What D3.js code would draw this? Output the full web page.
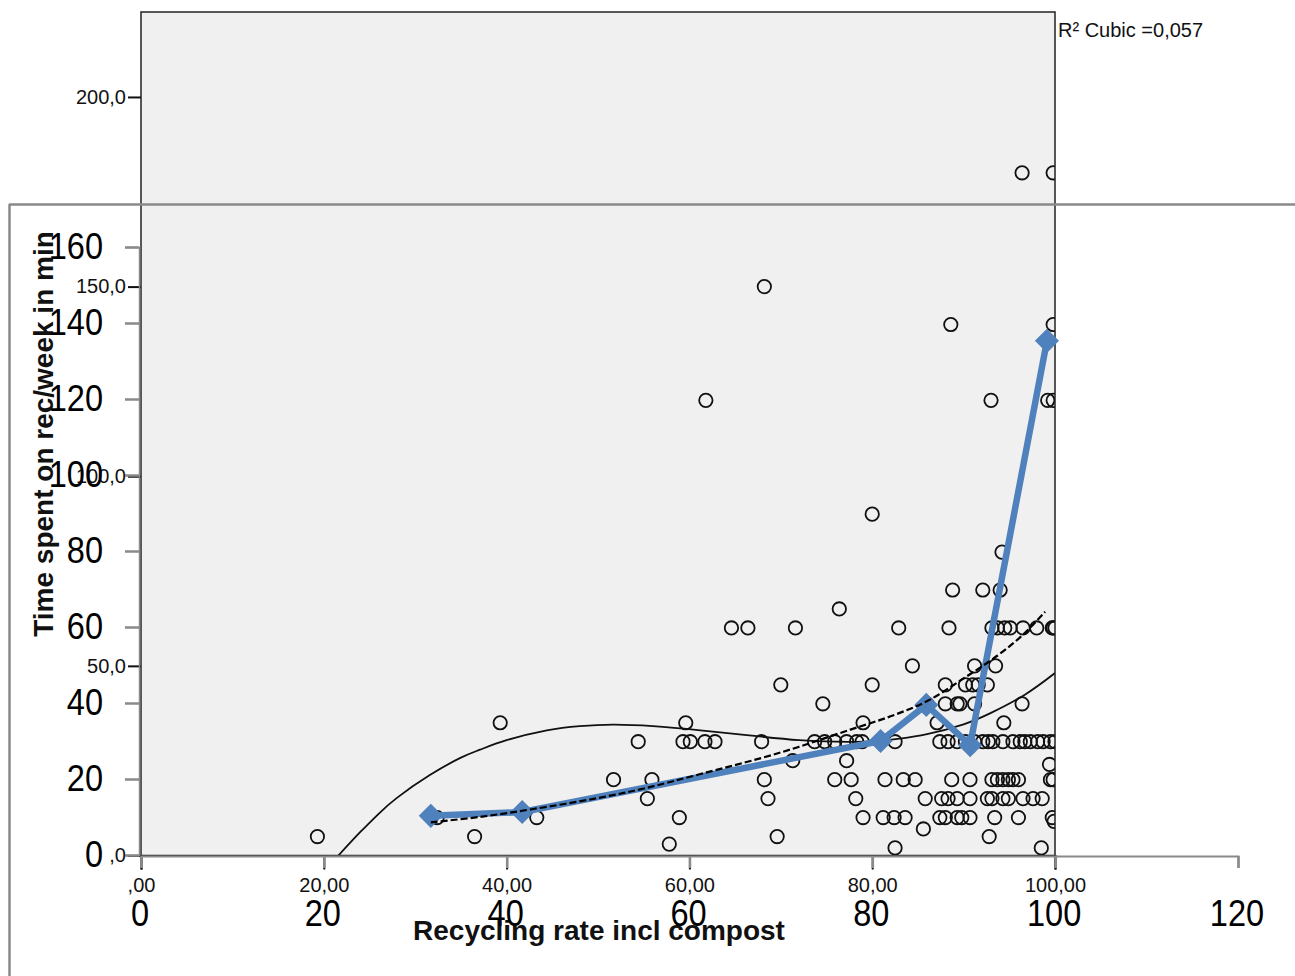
<!DOCTYPE html>
<html>
<head>
<meta charset="utf-8">
<script src="https://cdn.jsdelivr.net/npm/d3@7"></script>
<style>
  html, body { margin: 0; padding: 0; background: #fff; }
  svg { display: block; }
</style>
</head>
<body>
<svg id="chart" width="1295" height="976"></svg>
<script>
// ---------- DATA ----------
// SPSS scatter: recycling rate (x) vs time spent per week (y)
const recyclingRate = [
  19.3, 32.4, 36.5, 39.3, 43.3, 51.7, 54.4, 55.4, 55.9, 57.8, 58.9, 59.6, 59.3, 60.1, 61.7, 62.8,
  61.8, 64.6, 66.4, 68.2, 67.9, 68.2, 68.6, 69.6, 70.0, 71.3, 71.6, 73.7, 74.6, 74.8, 75.9, 75.9,
  76.4, 77.2, 77.2, 77.7, 78.2, 78.3, 78.9, 79.0, 79.0, 80.0, 80.0, 81.2, 81.4, 82.4, 82.5, 82.5,
  82.9, 83.4, 83.6, 84.4, 84.7, 85.6, 85.8, 86.0, 87.1, 87.4, 87.4, 87.6, 88.0, 88.0, 88.0, 88.3,
  88.3, 88.4, 88.6, 88.7, 88.8, 89.3, 89.3, 89.3, 89.3, 89.6, 89.8, 90.2, 90.2, 90.7, 90.7, 90.7,
  91.0, 91.2, 91.2, 91.2, 91.6, 92.1, 92.1, 92.6, 92.6, 92.7, 92.8, 93.0, 93.1, 93.1, 93.1, 93.2,
  93.4, 93.5, 93.7, 93.7, 94.0, 94.2, 94.3, 94.3, 94.3, 94.4, 94.5, 94.9, 94.9, 95.1, 95.4, 95.4,
  96.0, 96.0, 96.2, 96.4, 96.4, 96.5, 96.5, 96.7, 97.3, 97.6, 98.0, 98.1, 98.5, 98.6, 98.7, 99.2,
  99.4, 99.5, 99.5, 99.7, 99.7, 99.8, 99.8, 99.8, 99.8, 99.8, 99.9, 100.0, 100.0
];
const timeSpent = [
  5, 10, 5, 35, 10, 20, 30, 15, 20, 3, 10, 35, 30, 30, 30, 30,
  120, 60, 60, 150, 30, 20, 15, 5, 45, 25, 60, 30, 40, 30, 30, 20,
  65, 30, 25, 20, 15, 30, 30, 35, 10, 45, 90, 10, 20, 10, 30, 2,
  60, 20, 10, 50, 20, 7, 15, 40, 35, 30, 10, 15, 45, 40, 10, 30,
  15, 60, 140, 20, 70, 40, 30, 15, 10, 40, 10, 45, 30, 15, 20, 10,
  45, 40, 50, 30, 45, 70, 30, 45, 15, 30, 5, 120, 20, 15, 60, 30,
  10, 50, 20, 60, 70, 80, 30, 20, 15, 35, 60, 20, 15, 60, 20, 30,
  20, 10, 30, 40, 180, 60, 15, 30, 30, 15, 60, 30, 2, 15, 30, 120,
  24, 20, 30, 60, 10, 180, 140, 120, 60, 20, 9, 30, 60
];
// SPSS cubic fit line
const cubicX = [21.6, 24, 26, 28, 31.6, 35, 37.1, 40, 44.4, 48, 51.6, 56, 61.2, 66, 72, 76, 80, 83, 86, 90, 93, 96.7, 100];
const cubicY = [0, 6.2, 11, 15.2, 21.2, 25.8, 27.9, 30.4, 33, 34.1, 34.5, 34.1, 33, 31.8, 30.4, 30, 30.1, 30.8, 32, 34.6, 37.6, 42.4, 48.1];
const fitLabel = "R\u00B2  Cubic =0,057";

// Excel overlay series (blue line with diamonds)
const groupRate = [31.7, 41.7, 80.9, 85.9, 90.7, 99.1];
const groupTime = [10.3, 11.3, 30, 39.5, 28.9, 135.3];
// Excel trendline (dashed)
const trendX = [31.7, 37, 42.9, 50, 55, 61.2, 70, 77.6, 82, 86, 90, 93.7, 96.5, 98.9];
const trendY = [8.6, 10, 12.1, 15, 17.5, 21.3, 27, 33, 36.5, 40.5, 46.5, 52.5, 58, 64];

// Tick values
const spssYTicks = [0, 50, 100, 150, 200];
const spssXTicks = [0, 20, 40, 60, 80, 100];
const excelYTicks = [0, 20, 40, 60, 80, 100, 120, 140, 160];
const excelXTicks = [0, 20, 40, 60, 80, 100, 120];

const xTitle = "Recycling rate incl compost";
const yTitle = "Time spent on rec/week in min";

// ---------- DRAWING ----------
const svg = d3.select("#chart");
const SPSS_FONT = "'Liberation Sans', Arial, sans-serif";
const XL_FONT = "'Liberation Sans Narrow', 'Liberation Sans', Arial, sans-serif";

// SPSS scales
const xS = d3.scaleLinear().domain([0, 100]).range([141, 1055]);
const yS = d3.scaleLinear().domain([0, 222.4]).range([855.5, 12]);
// Excel scales
const xE = d3.scaleLinear().domain([0, 120]).range([141, 1238]);
const yE = d3.scaleLinear().domain([0, 160]).range([855, 247]);

// SPSS plot background
svg.append("rect")
  .attr("x", xS(0)).attr("y", yS(222.4))
  .attr("width", xS(100) - xS(0)).attr("height", yS(0) - yS(222.4))
  .attr("fill", "#f0f0f0");

svg.append("defs").append("clipPath").attr("id", "plotclip")
  .append("rect")
  .attr("x", xS(0)).attr("y", yS(222.4))
  .attr("width", xS(100) - xS(0)).attr("height", yS(0) - yS(222.4));

const plot = svg.append("g").attr("clip-path", "url(#plotclip)");

// scatter circles
plot.selectAll("circle.pt")
  .data(recyclingRate.map((x, i) => [x, timeSpent[i]]))
  .join("circle")
  .attr("class", "pt")
  .attr("cx", d => xS(d[0]))
  .attr("cy", d => yS(d[1]))
  .attr("r", 6.7)
  .attr("fill", "none")
  .attr("stroke", "#111")
  .attr("stroke-width", 1.8);

// cubic fit line
plot.append("path")
  .datum(cubicX.map((x, i) => [x, cubicY[i]]))
  .attr("d", d3.line().x(d => xS(d[0])).y(d => yS(d[1])).curve(d3.curveNatural))
  .attr("fill", "none")
  .attr("stroke", "#111")
  .attr("stroke-width", 1.8);

// SPSS plot border
svg.append("rect")
  .attr("x", xS(0)).attr("y", yS(222.4))
  .attr("width", xS(100) - xS(0)).attr("height", yS(0) - yS(222.4))
  .attr("fill", "none").attr("stroke", "#222").attr("stroke-width", 1.5);

// SPSS axes
const fmtY = d => d === 0 ? ",0" : d.toFixed(1).replace(".", ",");
const fmtX = d => d === 0 ? ",00" : d.toFixed(2).replace(".", ",");

const sy = svg.append("g").attr("transform", `translate(${xS(0)},0)`)
  .call(d3.axisLeft(yS).tickValues(spssYTicks).tickFormat(fmtY).tickSize(13).tickPadding(2));
sy.select(".domain").remove();
sy.selectAll("line").attr("stroke", "#111").attr("stroke-width", 2);
sy.selectAll("text").attr("font-family", SPSS_FONT).attr("font-size", 20).attr("fill", "#111");

const sx = svg.append("g").attr("transform", `translate(0,${yS(0)})`)
  .call(d3.axisBottom(xS).tickValues(spssXTicks).tickFormat(fmtX).tickSize(14).tickPadding(8));
sx.select(".domain").attr("stroke", "#222").attr("stroke-width", 2);
sx.selectAll("line").attr("stroke", "#111").attr("stroke-width", 2);
sx.selectAll("text").attr("font-family", SPSS_FONT).attr("font-size", 20).attr("fill", "#111");

// R² label
svg.append("text")
  .attr("x", 1058).attr("y", 37)
  .attr("font-family", SPSS_FONT).attr("font-size", 20).attr("fill", "#111")
  .text(fitLabel);

// Axis titles (SPSS, bold)
svg.append("text")
  .attr("x", 599).attr("y", 940)
  .attr("text-anchor", "middle")
  .attr("font-family", SPSS_FONT).attr("font-size", 28).attr("font-weight", "bold").attr("fill", "#111")
  .text(xTitle);
svg.append("text")
  .attr("transform", "translate(53,434) rotate(-90)")
  .attr("text-anchor", "middle")
  .attr("font-family", SPSS_FONT).attr("font-size", 28).attr("font-weight", "bold").attr("fill", "#111")
  .text(yTitle);

// ---------- Excel overlay ----------
const GRAY = "#8a8a8a";
// frame lines
svg.append("line").attr("x1", 9).attr("x2", 1295).attr("y1", 204.5).attr("y2", 204.5)
  .attr("stroke", GRAY).attr("stroke-width", 2.5);
svg.append("line").attr("x1", 9.5).attr("x2", 9.5).attr("y1", 204).attr("y2", 976)
  .attr("stroke", GRAY).attr("stroke-width", 2.5);

function narrow(sel) {
  sel.each(function () {
    const len = this.getComputedTextLength();
    d3.select(this).attr("textLength", len * 0.88).attr("lengthAdjust", "spacingAndGlyphs");
  });
}

const ey = svg.append("g").attr("transform", "translate(139,0)")
  .call(d3.axisLeft(yE).tickValues(excelYTicks).tickFormat(d3.format("d")).tickSize(14).tickPadding(22));
ey.select(".domain").attr("stroke", GRAY).attr("stroke-width", 1.5);
ey.selectAll("line").attr("stroke", GRAY).attr("stroke-width", 2.5);
ey.selectAll("text").attr("font-family", XL_FONT).attr("font-size", 37).attr("fill", "#000").call(narrow);

const ex = svg.append("g").attr("transform", `translate(0,${yE(0) + 1})`)
  .call(d3.axisBottom(xE).tickValues(excelXTicks).tickFormat(d3.format("d")).tickSize(12).tickPadding(32));
ex.select(".domain").attr("stroke", GRAY).attr("stroke-width", 2);
ex.selectAll("line").attr("stroke", GRAY).attr("stroke-width", 2.5);
ex.selectAll("text").attr("font-family", XL_FONT).attr("font-size", 37).attr("fill", "#000")
  .attr("dx", -1.5).call(narrow);

// blue series line
const blue = "#4f81bd";
svg.append("path")
  .datum(groupRate.map((x, i) => [x, groupTime[i]]))
  .attr("d", d3.line().x(d => xE(d[0])).y(d => yE(d[1])))
  .attr("fill", "none")
  .attr("stroke", blue)
  .attr("stroke-width", 6.5)
  .attr("stroke-linejoin", "round");

svg.selectAll("path.diamond")
  .data(groupRate.map((x, i) => [x, groupTime[i]]))
  .join("path")
  .attr("class", "diamond")
  .attr("d", d3.symbol().type(d3.symbolSquare).size(290))
  .attr("transform", d => `translate(${xE(d[0])},${yE(d[1])}) rotate(45)`)
  .attr("fill", blue);

// dashed trendline
svg.append("path")
  .datum(trendX.map((x, i) => [x, trendY[i]]))
  .attr("d", d3.line().x(d => xE(d[0])).y(d => yE(d[1])).curve(d3.curveCatmullRom))
  .attr("fill", "none")
  .attr("stroke", "#000")
  .attr("stroke-width", 2.2)
  .attr("stroke-dasharray", "7,3");
</script>
</body>
</html>
